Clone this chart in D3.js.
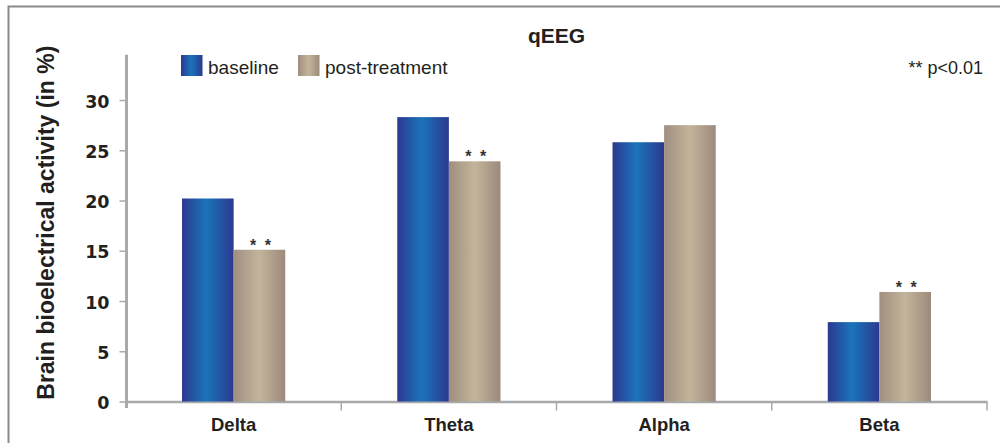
<!DOCTYPE html>
<html>
<head>
<meta charset="utf-8">
<script src="https://cdn.jsdelivr.net/npm/d3@7"></script>
<style>
  body { margin: 0; background: #fff; }
  svg { display: block; font-family: "Liberation Sans", Arial, sans-serif; }
  .tick-label { font-weight: bold; font-size: 17.5px; fill: #231f20; }
</style>
</head>
<body>
<div id="chart"></div>
<script>
// qEEG - baseline vs post-treatment
const categories = ["Delta", "Theta", "Alpha", "Beta"];
const series = ["baseline", "post-treatment"];
const baselineValues = [20.2, 28.3, 25.8, 7.9];
const postValues = [15.1, 23.9, 27.5, 10.9];
const significant = [true, true, false, true];
const yTicks = [0, 5, 10, 15, 20, 25, 30];

const width = 1000;
const height = 443;
const axisColor = "#a7a9ac";
const textColor = "#231f20";

const svg = d3
  .select("#chart")
  .append("svg")
  .attr("width", width)
  .attr("height", height);

// gradients for the bars
const defs = svg.append("defs");
const gradBlue = defs
  .append("linearGradient")
  .attr("id", "grad-baseline")
  .attr("x1", 0).attr("x2", 1).attr("y1", 0).attr("y2", 0);
gradBlue.append("stop").attr("offset", "0%").attr("stop-color", "#2b3990");
gradBlue.append("stop").attr("offset", "47%").attr("stop-color", "#1b74ba");
gradBlue.append("stop").attr("offset", "100%").attr("stop-color", "#2b3990");

const gradBeige = defs
  .append("linearGradient")
  .attr("id", "grad-post")
  .attr("x1", 0).attr("x2", 1).attr("y1", 0).attr("y2", 0);
gradBeige.append("stop").attr("offset", "0%").attr("stop-color", "#a08e80");
gradBeige.append("stop").attr("offset", "50%").attr("stop-color", "#c3b59b");
gradBeige.append("stop").attr("offset", "100%").attr("stop-color", "#9c897c");

const fills = { baseline: "url(#grad-baseline)", "post-treatment": "url(#grad-post)" };

// frame
svg.append("path")
  .attr("d", `M8.5,443 L8.5,6.5 L1000,6.5`)
  .attr("fill", "none")
  .attr("stroke", "#8a8a8a")
  .attr("stroke-width", 2);

const x = d3.scaleBand().domain(categories).range([126, 987]).padding(0);
const barW = 51.6;
const x1 = d3
  .scaleBand()
  .domain(series)
  .range([x.bandwidth() / 2 - barW, x.bandwidth() / 2 + barW]);
const y = d3.scaleLinear().domain([0, 34.5]).range([401.5, 54.8]);

// y axis
const yAxis = svg
  .append("g")
  .attr("transform", "translate(126.5,0)")
  .call(d3.axisLeft(y).tickValues(yTicks).tickSize(7).tickPadding(10).tickSizeOuter(0));
yAxis.select(".domain").remove();
yAxis.selectAll(".tick line").attr("stroke", axisColor).attr("stroke-width", 1.5);
yAxis.selectAll(".tick text")
  .attr("class", "tick-label")
  .attr("dy", "0.4em")
  .style("font-family", "'DejaVu Sans', Arial, sans-serif");
yAxis.append("line")
  .attr("x1", 0).attr("x2", 0)
  .attr("y1", y(34.5)).attr("y2", y(0) + 6.5)
  .attr("stroke", axisColor)
  .attr("stroke-width", 3);

// x axis
const xAxis = svg
  .append("g")
  .attr("transform", `translate(0,${y(0)})`)
  .call(d3.axisBottom(x).tickSize(0).tickPadding(16).tickSizeOuter(0));
xAxis.select(".domain").attr("stroke", axisColor).attr("stroke-width", 2.5);
xAxis.selectAll(".tick text")
  .attr("font-weight", "bold")
  .attr("font-size", 18.5)
  .attr("fill", textColor)
  .style("font-family", "'Liberation Sans', Arial, sans-serif");

const separators = categories.slice(1).map((c) => x(c)).concat([x.range()[1]]);
xAxis.selectAll(".sep")
  .data(separators)
  .join("line")
  .attr("class", "sep")
  .attr("x1", (d) => d).attr("x2", (d) => d)
  .attr("y1", 0).attr("y2", 9)
  .attr("stroke", axisColor)
  .attr("stroke-width", 1.5);

// bars
const rows = categories.map((c, i) => ({
  category: c,
  values: [
    { key: "baseline", value: baselineValues[i] },
    { key: "post-treatment", value: postValues[i] },
  ],
  sig: significant[i],
  post: postValues[i],
}));

const groups = svg
  .selectAll(".group")
  .data(rows)
  .join("g")
  .attr("class", "group")
  .attr("transform", (d) => `translate(${x(d.category)},0)`);

groups
  .selectAll("rect")
  .data((d) => d.values)
  .join("rect")
  .attr("x", (d) => x1(d.key))
  .attr("y", (d) => y(d.value))
  .attr("width", x1.bandwidth())
  .attr("height", (d) => y(0) - y(d.value))
  .attr("fill", (d) => fills[d.key]);

// significance markers
groups
  .filter((d) => d.sig)
  .append("text")
  .attr("x", x1("post-treatment") + x1.bandwidth() / 2 + 2)
  .attr("y", (d) => y(d.post) + 1)
  .attr("text-anchor", "middle")
  .attr("font-size", 16)
  .attr("font-weight", "bold")
  .attr("letter-spacing", 2)
  .attr("fill", "#333")
  .text("* *");

// title
svg.append("text")
  .attr("x", (x.range()[0] + x.range()[1]) / 2)
  .attr("y", 43)
  .attr("text-anchor", "middle")
  .attr("font-size", 21)
  .attr("font-weight", "bold")
  .attr("fill", textColor)
  .text("qEEG");

// y label
svg.append("text")
  .attr("transform", "translate(53.5,222.7) rotate(-90)")
  .attr("text-anchor", "middle")
  .attr("font-size", 23)
  .attr("font-weight", "bold")
  .attr("fill", textColor)
  .text("Brain bioelectrical activity (in %)");

// legend
const legendX = [181, 298];
const legend = svg
  .selectAll(".legend")
  .data(series)
  .join("g")
  .attr("class", "legend")
  .attr("transform", (d, i) => `translate(${legendX[i]},55)`);
legend.append("rect")
  .attr("width", 21.5)
  .attr("height", 21)
  .attr("fill", (d) => fills[d]);
legend.append("text")
  .attr("x", 27)
  .attr("y", 19)
  .attr("font-size", 19)
  .attr("fill", textColor)
  .text((d) => d);

// p-value note
svg.append("text")
  .attr("x", 983)
  .attr("y", 74)
  .attr("text-anchor", "end")
  .attr("font-size", 18)
  .attr("fill", textColor)
  .text("** p<0.01");
</script>
</body>
</html>
